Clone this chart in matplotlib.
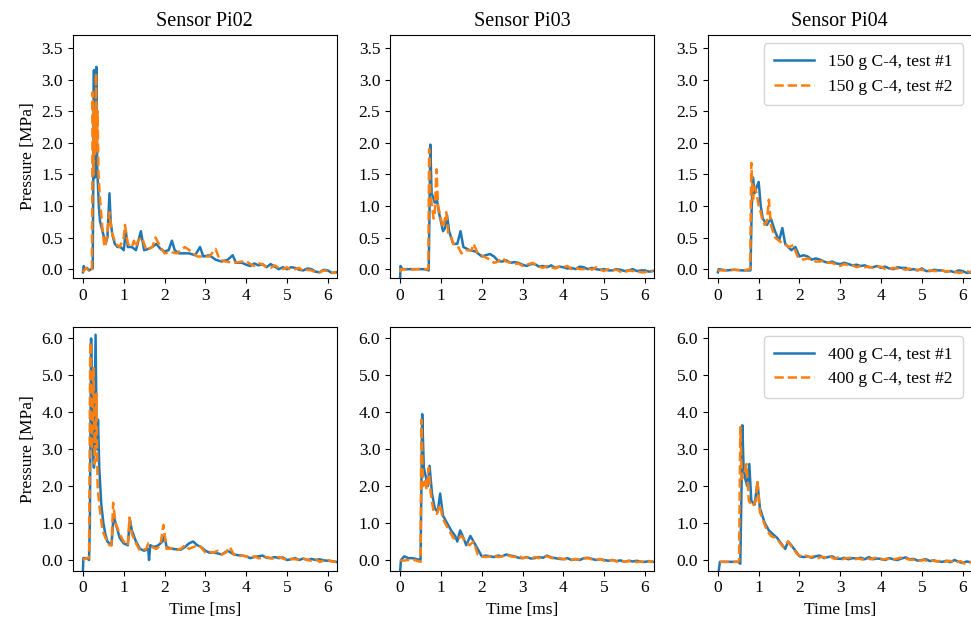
import numpy as np
import matplotlib
matplotlib.use('Agg')
import matplotlib.pyplot as plt
from matplotlib.ticker import FormatStrFormatter

plt.rcParams['font.family'] = ['Liberation Serif', 'DejaVu Serif']
plt.rcParams['font.size'] = 12.5

sensors = ['Pi02', 'Pi03', 'Pi04']
charges = ['150 g C-4', '400 g C-4']

# ---- 150 g, Pi02 ----
t_150_pi02_1 = [0, 0.02, 0.05, 0.1, 0.15, 0.2, 0.24, 0.25, 0.27, 0.28, 0.30, 0.31, 0.33, 0.35, 0.37, 0.39,
                0.42, 0.46, 0.5, 0.55, 0.6, 0.65, 0.68, 0.72, 0.78, 0.85, 0.92, 1.0, 1.05, 1.1, 1.2, 1.3,
                1.42, 1.5, 1.6, 1.7, 1.8, 1.9, 2.0, 2.1, 2.18, 2.25, 2.35, 2.5, 2.6, 2.75, 2.87, 2.95, 3.1,
                3.25, 3.4, 3.55, 3.67, 3.75, 3.9, 4.0, 4.1, 4.2, 4.3, 4.4, 4.5, 4.6, 4.7, 4.8, 4.9, 5.0,
                5.1, 5.2, 5.3, 5.4, 5.5, 5.6, 5.7, 5.8, 5.9, 6.0, 6.1, 6.2]
p_150_pi02_1 = [-0.05, 0.05, 0.0, 0.02, -0.02, 0.0, 0.01, 1.0, 3.15, 1.6, 1.45, 2.5, 3.2, 1.6, 1.3, 1.0,
                0.75, 0.65, 0.55, 0.4, 0.5, 1.2, 0.75, 0.55, 0.4, 0.35, 0.35, 0.3, 0.6, 0.35, 0.35, 0.3,
                0.6, 0.3, 0.32, 0.35, 0.4, 0.32, 0.28, 0.3, 0.45, 0.3, 0.25, 0.25, 0.25, 0.22, 0.35, 0.2, 0.22,
                0.15, 0.12, 0.15, 0.22, 0.1, 0.1, 0.07, 0.05, 0.09, 0.06, 0.08, 0.03, 0.08, 0.04, 0.0, 0.03, 0.0,
                0.03, 0.02, -0.01, -0.02, 0.01, 0.0, -0.04, -0.05, -0.01, -0.02, -0.06, -0.05]
t_150_pi02_2 = [0, 0.03, 0.08, 0.14, 0.2, 0.22, 0.24, 0.26, 0.28, 0.30, 0.32, 0.34, 0.36, 0.38, 0.42, 0.47,
                0.52, 0.55, 0.6, 0.65, 0.7, 0.8, 0.9, 1.0, 1.03, 1.1, 1.2, 1.25, 1.3, 1.35, 1.45, 1.55, 1.7,
                1.78, 1.9, 2.0, 2.15, 2.3, 2.5, 2.65, 2.8, 3.0, 3.1, 3.25, 3.35, 3.5, 3.7, 3.9, 4.0, 4.1, 4.2,
                4.3, 4.4, 4.5, 4.6, 4.7, 4.8, 4.9, 5.0, 5.1, 5.2, 5.3, 5.4, 5.5, 5.6, 5.7, 5.8, 5.9, 6.0, 6.1, 6.2]
p_150_pi02_2 = [-0.05, -0.02, 0.02, -0.02, 0.02, 0.0, 2.8, 1.5, 2.5, 1.8, 3.1, 2.0, 2.5, 1.5, 1.1, 0.7,
                0.4, 0.35, 0.6, 0.9, 0.6, 0.4, 0.35, 0.5, 0.7, 0.4, 0.35, 0.45, 0.35, 0.45, 0.5, 0.3, 0.35,
                0.5, 0.35, 0.25, 0.27, 0.25, 0.35, 0.28, 0.2, 0.2, 0.2, 0.32, 0.15, 0.12, 0.1, 0.12, 0.13, 0.08, 0.05,
                0.09, 0.08, 0.03, 0.02, 0.06, 0.02, 0.0, 0.03, -0.01, 0.0, 0.02, -0.03, -0.01, -0.02, -0.05, -0.05,
                -0.02, -0.03, -0.06, -0.05]

# ---- 150 g, Pi03 ----
t_150_pi03_1 = [0, 0.01, 0.05, 0.2, 0.4, 0.6, 0.7, 0.72, 0.74, 0.77, 0.8, 0.85, 0.9, 0.95, 1.0, 1.05, 1.1,
                1.15, 1.2, 1.3, 1.4, 1.48, 1.55, 1.7, 1.85, 2.0, 2.1, 2.2, 2.3, 2.4, 2.5, 2.6, 2.7, 2.8, 2.9,
                3.0, 3.1, 3.2, 3.3, 3.4, 3.5, 3.6, 3.7, 3.8, 3.9, 4.0, 4.1, 4.2, 4.3, 4.4, 4.5, 4.6, 4.7, 4.8,
                4.9, 5.0, 5.1, 5.2, 5.3, 5.4, 5.5, 5.6, 5.7, 5.8, 5.9, 6.0, 6.1, 6.2]
p_150_pi03_1 = [-0.13, 0.05, 0.0, 0.0, 0.0, 0.0, -0.02, 1.0, 1.97, 1.2, 1.15, 1.05, 1.1, 0.9, 0.75, 0.6, 0.65,
                0.85, 0.6, 0.4, 0.4, 0.6, 0.35, 0.3, 0.28, 0.2, 0.22, 0.24, 0.2, 0.13, 0.12, 0.14, 0.1, 0.11, 0.1,
                0.07, 0.05, 0.08, 0.08, 0.04, 0.05, 0.03, 0.06, 0.02, 0.04, 0.03, 0.01, 0.02, 0.0, 0.04, 0.03, 0.0,
                0.02, 0.0, -0.01, 0.0, -0.02, -0.02, 0.0, -0.01, -0.03, -0.02, 0.0, -0.03, -0.02, -0.02, -0.04, -0.03]
t_150_pi03_2 = [0, 0.02, 0.2, 0.4, 0.6, 0.69, 0.71, 0.74, 0.78, 0.82, 0.85, 0.89, 0.93, 0.98, 1.05, 1.13,
                1.18, 1.25, 1.3, 1.4, 1.5, 1.6, 1.75, 1.8, 1.9, 2.05, 2.2, 2.3, 2.4, 2.5, 2.6, 2.7, 2.8, 2.9,
                3.0, 3.1, 3.25, 3.4, 3.5, 3.6, 3.7, 3.8, 3.9, 4.0, 4.1, 4.2, 4.3, 4.4, 4.5, 4.6, 4.7, 4.8,
                4.9, 5.0, 5.1, 5.2, 5.3, 5.4, 5.5, 5.6, 5.7, 5.8, 5.9, 6.0, 6.1, 6.2]
p_150_pi03_2 = [-0.05, 0.0, -0.01, 0.0, 0.0, 0.0, 1.9, 1.2, 1.0, 0.8, 0.9, 1.58, 1.0, 0.85, 0.65, 0.9,
                0.55, 0.5, 0.4, 0.38, 0.25, 0.3, 0.3, 0.4, 0.25, 0.2, 0.15, 0.1, 0.12, 0.18, 0.12, 0.1, 0.08, 0.09,
                0.05, 0.07, 0.1, 0.04, 0.02, 0.05, 0.03, 0.01, 0.04, 0.03, 0.05, 0.0, 0.02, 0.0, 0.0, 0.02, -0.01,
                0.03, -0.01, -0.03, 0.0, -0.02, -0.01, -0.04, -0.05, -0.02, -0.03, -0.03, -0.05, -0.05, -0.02, -0.03]

# ---- 150 g, Pi04 ----
t_150_pi04_1 = [0, 0.02, 0.2, 0.4, 0.6, 0.8, 0.83, 0.86, 0.9, 0.95, 1.0, 1.05, 1.1, 1.2, 1.3, 1.4, 1.5,
                1.58, 1.65, 1.8, 1.9, 2.0, 2.1, 2.2, 2.3, 2.4, 2.5, 2.6, 2.7, 2.8, 2.9, 3.0, 3.1, 3.2, 3.3,
                3.4, 3.5, 3.6, 3.7, 3.8, 3.9, 4.0, 4.1, 4.2, 4.3, 4.4, 4.5, 4.6, 4.7, 4.8, 4.9, 5.0, 5.1,
                5.2, 5.3, 5.4, 5.5, 5.6, 5.7, 5.8, 5.9, 6.0, 6.1, 6.2]
p_150_pi04_1 = [-0.05, 0.0, -0.02, -0.01, -0.02, -0.02, 1.0, 1.45, 1.2, 1.3, 1.38, 1.0, 0.8, 0.7, 0.8, 0.6, 0.45,
                0.65, 0.4, 0.3, 0.35, 0.2, 0.22, 0.2, 0.15, 0.17, 0.15, 0.12, 0.1, 0.12, 0.09, 0.08, 0.1, 0.08, 0.06,
                0.07, 0.05, 0.06, 0.03, 0.03, 0.05, 0.02, 0.04, 0.01, 0.0, 0.03, 0.02, 0.02, -0.01, 0.0, -0.02, 0.01,
                -0.03, -0.03, -0.01, -0.02, -0.02, -0.04, -0.03, -0.05, -0.02, -0.03, -0.06, -0.05]
t_150_pi04_2 = [0, 0.03, 0.2, 0.4, 0.6, 0.79, 0.82, 0.86, 0.9, 0.95, 1.0, 1.05, 1.1, 1.15, 1.2, 1.25, 1.3,
                1.4, 1.5, 1.6, 1.75, 1.85, 1.95, 2.1, 2.2, 2.3, 2.4, 2.5, 2.6, 2.7, 2.8, 2.9, 3.0, 3.1, 3.2,
                3.3, 3.4, 3.5, 3.6, 3.7, 3.8, 3.9, 4.0, 4.1, 4.2, 4.3, 4.4, 4.5, 4.6, 4.7, 4.8, 4.9, 5.0,
                5.1, 5.2, 5.3, 5.4, 5.5, 5.6, 5.7, 5.8, 5.9, 6.0, 6.1, 6.2]
p_150_pi04_2 = [-0.03, -0.02, -0.02, -0.01, -0.02, 0.0, 1.68, 1.1, 1.3, 1.2, 1.0, 0.9, 0.75, 0.7, 0.75, 1.1, 0.7,
                0.5, 0.45, 0.4, 0.35, 0.38, 0.2, 0.15, 0.17, 0.15, 0.12, 0.12, 0.14, 0.1, 0.1, 0.07, 0.05, 0.08, 0.06,
                0.06, 0.03, 0.05, 0.03, 0.04, 0.02, 0.04, 0.04, 0.0, 0.0, 0.02, 0.01, 0.01, -0.01, 0.01, -0.02, -0.01,
                -0.01, -0.03, -0.02, -0.03, -0.03, -0.02, -0.04, -0.03, -0.04, -0.06, -0.05, -0.03, -0.05]

# ---- 400 g, Pi02 ----
t_400_pi02_1 = [0, 0.01, 0.05, 0.1, 0.15, 0.17, 0.2, 0.23, 0.27, 0.31, 0.34, 0.37, 0.4, 0.45, 0.5, 0.55,
                0.6, 0.7, 0.75, 0.8, 0.9, 1.0, 1.1, 1.15, 1.2, 1.3, 1.4, 1.5, 1.6, 1.62, 1.65, 1.75, 1.85,
                1.95, 2.0, 2.05, 2.2, 2.4, 2.5, 2.6, 2.7, 2.8, 2.9, 3.0, 3.1, 3.2, 3.3, 3.4, 3.55, 3.7, 3.8,
                3.9, 4.0, 4.1, 4.2, 4.3, 4.4, 4.5, 4.6, 4.7, 4.8, 4.9, 5.0, 5.1, 5.2, 5.3, 5.4, 5.5, 5.6,
                5.7, 5.8, 5.9, 6.0, 6.1, 6.2]
p_400_pi02_1 = [-0.3, 0.05, 0.05, 0.05, 0.0, 1.0, 6.0, 3.5, 2.5, 6.1, 3.0, 3.8, 2.5, 1.5, 1.0, 0.7,
                0.5, 0.4, 1.2, 1.0, 0.6, 0.45, 0.4, 1.1, 0.8, 0.5, 0.3, 0.25, 0.3, 0.0, 0.4, 0.35, 0.4,
                0.5, 0.65, 0.35, 0.3, 0.28, 0.35, 0.45, 0.5, 0.4, 0.35, 0.25, 0.2, 0.2, 0.18, 0.15, 0.25, 0.15, 0.13,
                0.12, 0.1, 0.05, 0.08, 0.1, 0.12, 0.06, 0.05, 0.08, 0.05, 0.07, 0.0, 0.02, 0.05, 0.0, 0.04, 0.0, 0.03,
                0.0, 0.02, -0.01, -0.02, -0.03, -0.05]
t_400_pi02_2 = [0, 0.03, 0.08, 0.15, 0.18, 0.21, 0.24, 0.26, 0.29, 0.33, 0.36, 0.4, 0.48, 0.55, 0.65, 0.7,
                0.74, 0.8, 0.9, 1.0, 1.1, 1.14, 1.2, 1.3, 1.4, 1.55, 1.6, 1.7, 1.8, 1.9, 1.97, 2.05, 2.2, 2.3,
                2.4, 2.5, 2.6, 2.7, 2.85, 3.0, 3.1, 3.2, 3.3, 3.4, 3.5, 3.6, 3.7, 3.8, 3.9, 4.0, 4.1, 4.2, 4.3,
                4.4, 4.5, 4.6, 4.7, 4.8, 4.9, 5.0, 5.1, 5.2, 5.3, 5.4, 5.5, 5.6, 5.7, 5.8, 5.9, 6.0, 6.1, 6.2]
p_400_pi02_2 = [0.0, 0.02, 0.05, 0.05, 5.9, 3.0, 3.8, 5.2, 2.6, 4.5, 2.0, 1.5, 0.8, 0.6, 0.4, 0.4,
                1.55, 1.0, 0.7, 0.5, 0.4, 1.15, 0.7, 0.45, 0.25, 0.3, 0.45, 0.35, 0.3, 0.4, 0.95, 0.3, 0.32, 0.28,
                0.3, 0.4, 0.3, 0.35, 0.4, 0.2, 0.22, 0.2, 0.25, 0.15, 0.2, 0.35, 0.15, 0.1, 0.12, 0.1, 0.07, 0.1, 0.05,
                0.04, 0.08, 0.05, 0.03, 0.08, 0.04, 0.0, 0.03, 0.02, 0.0, 0.04, 0.0, -0.02, 0.02, -0.05, -0.02, 0.0, -0.04, -0.05]

# ---- 400 g, Pi03 ----
t_400_pi03_1 = [0, 0.02, 0.1, 0.2, 0.3, 0.5, 0.52, 0.54, 0.58, 0.62, 0.68, 0.72, 0.78, 0.85, 0.92, 0.98,
                1.05, 1.15, 1.25, 1.35, 1.4, 1.47, 1.55, 1.62, 1.72, 1.8, 1.9, 2.0, 2.1, 2.2, 2.3, 2.4, 2.5,
                2.6, 2.7, 2.8, 2.9, 3.0, 3.1, 3.2, 3.3, 3.4, 3.5, 3.6, 3.7, 3.8, 3.9, 4.0, 4.1, 4.2, 4.3,
                4.4, 4.5, 4.6, 4.7, 4.8, 4.9, 5.0, 5.1, 5.2, 5.3, 5.4, 5.5, 5.6, 5.7, 5.8, 5.9, 6.0, 6.1, 6.2]
p_400_pi03_1 = [-0.3, 0.0, 0.1, 0.05, 0.05, 0.0, 2.0, 3.95, 2.5, 2.3, 2.0, 2.55, 1.8, 1.4, 1.3, 1.8,
                1.2, 1.0, 0.8, 0.65, 0.5, 0.8, 0.6, 0.4, 0.65, 0.5, 0.3, 0.1, 0.12, 0.1, 0.08, 0.12, 0.1,
                0.15, 0.12, 0.1, 0.06, 0.05, 0.08, 0.04, 0.05, 0.08, 0.06, 0.12, 0.07, 0.05, 0.03, 0.02, 0.05, 0.0,
                0.02, 0.0, 0.05, 0.06, 0.03, 0.0, 0.02, 0.0, -0.02, 0.0, -0.03, -0.01, -0.05, -0.02, -0.04, -0.02,
                -0.05, -0.05, -0.03, -0.05]
t_400_pi03_2 = [0, 0.05, 0.2, 0.35, 0.5, 0.52, 0.56, 0.6, 0.65, 0.7, 0.75, 0.82, 0.9, 0.98, 1.05, 1.15,
                1.3, 1.4, 1.5, 1.6, 1.7, 1.8, 1.9, 2.0, 2.1, 2.2, 2.3, 2.4, 2.5, 2.6, 2.7, 2.8, 2.9, 3.0,
                3.1, 3.2, 3.3, 3.4, 3.5, 3.6, 3.7, 3.8, 3.9, 4.0, 4.1, 4.2, 4.3, 4.4, 4.5, 4.6, 4.7, 4.8,
                4.9, 5.0, 5.1, 5.2, 5.3, 5.4, 5.5, 5.6, 5.7, 5.8, 5.9, 6.0, 6.1, 6.2]
p_400_pi03_2 = [0.0, -0.02, 0.0, 0.0, -0.05, 3.8, 2.0, 2.2, 1.9, 2.5, 1.8, 1.3, 1.25, 1.5, 1.1, 0.9,
                0.6, 0.55, 0.65, 0.5, 0.4, 0.5, 0.15, 0.1, 0.08, 0.1, 0.12, 0.08, 0.1, 0.14, 0.1, 0.08, 0.12, 0.05,
                0.07, 0.03, 0.08, 0.05, 0.08, 0.1, 0.06, 0.03, 0.05, 0.03, 0.02, 0.0, 0.03, 0.0, 0.04, 0.05, 0.02,
                0.0, 0.03, -0.02, -0.01, 0.0, -0.04, -0.02, -0.05, -0.03, -0.02, -0.06, -0.04, -0.06, -0.03, -0.05]

# ---- 400 g, Pi04 ----
t_400_pi04_1 = [0.02, 0.05, 0.1, 0.3, 0.5, 0.55, 0.58, 0.6, 0.63, 0.67, 0.72, 0.77, 0.82, 0.9, 0.97, 1.03,
                1.15, 1.25, 1.35, 1.45, 1.55, 1.65, 1.72, 1.8, 1.9, 2.0, 2.1, 2.2, 2.3, 2.4, 2.5, 2.6, 2.7,
                2.8, 2.9, 3.0, 3.1, 3.2, 3.3, 3.4, 3.5, 3.6, 3.7, 3.8, 3.9, 4.0, 4.1, 4.2, 4.3, 4.4, 4.5,
                4.6, 4.7, 4.8, 4.9, 5.0, 5.1, 5.2, 5.3, 5.4, 5.5, 5.6, 5.7, 5.8, 5.9, 6.0, 6.1, 6.2]
p_400_pi04_1 = [-0.3, -0.05, -0.05, -0.05, -0.05, -0.1, 2.0, 3.65, 2.5, 2.2, 2.0, 2.6, 1.6, 1.5, 2.1, 1.4,
                1.0, 0.8, 0.7, 0.6, 0.45, 0.3, 0.5, 0.4, 0.25, 0.1, 0.08, 0.1, 0.06, 0.1, 0.12, 0.05, 0.08,
                0.1, 0.04, 0.03, 0.06, 0.02, 0.05, 0.04, 0.06, 0.02, 0.08, 0.02, 0.04, 0.03, 0.0, 0.05, 0.02, 0.0,
                0.04, 0.07, 0.02, 0.03, -0.02, 0.0, 0.02, -0.03, -0.01, -0.04, -0.05, -0.02, -0.06, 0.0, -0.05,
                -0.08, -0.04, -0.06]
t_400_pi04_2 = [0.05, 0.2, 0.35, 0.5, 0.52, 0.55, 0.59, 0.64, 0.7, 0.76, 0.85, 0.93, 0.97, 1.03, 1.1, 1.2,
                1.3, 1.4, 1.5, 1.6, 1.72, 1.85, 1.95, 2.05, 2.15, 2.25, 2.35, 2.45, 2.55, 2.65, 2.75, 2.85,
                2.95, 3.05, 3.15, 3.25, 3.35, 3.45, 3.55, 3.65, 3.75, 3.85, 3.95, 4.05, 4.15, 4.25, 4.35,
                4.45, 4.55, 4.65, 4.75, 4.85, 4.95, 5.05, 5.15, 5.25, 5.35, 5.45, 5.55, 5.65, 5.75, 5.85,
                5.95, 6.05, 6.2]
p_400_pi04_2 = [-0.05, -0.05, -0.05, -0.05, 0.0, 3.6, 2.2, 2.3, 2.6, 1.6, 1.45, 1.6, 2.15, 1.3, 1.1, 0.8,
                0.65, 0.6, 0.5, 0.35, 0.5, 0.3, 0.15, 0.1, 0.12, 0.08, 0.1, 0.05, 0.09, 0.06, 0.1, 0.03,
                0.07, 0.02, 0.05, 0.06, 0.02, 0.04, 0.01, 0.05, 0.02, 0.06, 0.03, 0.01, 0.04, 0.0, 0.03,
                0.05, 0.08, 0.02, 0.0, 0.03, -0.02, 0.0, -0.03, -0.01, -0.04, -0.02, -0.05, -0.02, -0.04, -0.06,
                -0.03, -0.1, -0.06]

data = [
    [(t_150_pi02_1, p_150_pi02_1, t_150_pi02_2, p_150_pi02_2),
     (t_150_pi03_1, p_150_pi03_1, t_150_pi03_2, p_150_pi03_2),
     (t_150_pi04_1, p_150_pi04_1, t_150_pi04_2, p_150_pi04_2)],
    [(t_400_pi02_1, p_400_pi02_1, t_400_pi02_2, p_400_pi02_2),
     (t_400_pi03_1, p_400_pi03_1, t_400_pi03_2, p_400_pi03_2),
     (t_400_pi04_1, p_400_pi04_1, t_400_pi04_2, p_400_pi04_2)],
]

fig = plt.figure(figsize=(9.71, 6.24), dpi=100)

lefts = [0.0749, 0.4016, 0.7288]
bottoms = [0.5545, 0.0854]
w, h = 0.2719, 0.3900
ylims = [(-0.14, 3.71), (-0.29, 6.30)]
yticks = [np.arange(0, 3.6, 0.5), np.arange(0, 6.1, 1.0)]

for r in range(2):
    for c in range(3):
        ax = fig.add_axes([lefts[c], bottoms[r], w, h])
        t1, p1, t2, p2 = data[r][c]
        ax.plot(t1, p1, color='tab:blue', lw=1.8, label=f'{charges[r]}, test #1')
        ax.plot(t2, p2, color='tab:orange', lw=1.8, ls='--', label=f'{charges[r]}, test #2')
        ax.set_xlim(-0.25, 6.22)
        ax.set_ylim(*ylims[r])
        ax.set_xticks([0, 1, 2, 3, 4, 5, 6])
        ax.set_yticks(yticks[r])
        ax.yaxis.set_major_formatter(FormatStrFormatter('%.1f'))
        if r == 0:
            ax.set_title(f'Sensor {sensors[c]}', fontsize=14.5)
        else:
            ax.set_xlabel('Time [ms]')
        if c == 0:
            ax.set_ylabel('Pressure [MPa]')
        if c == 2:
            ax.legend(loc='upper right', handlelength=2.3, borderpad=0.6)

fig.savefig('out.png', dpi=100)
